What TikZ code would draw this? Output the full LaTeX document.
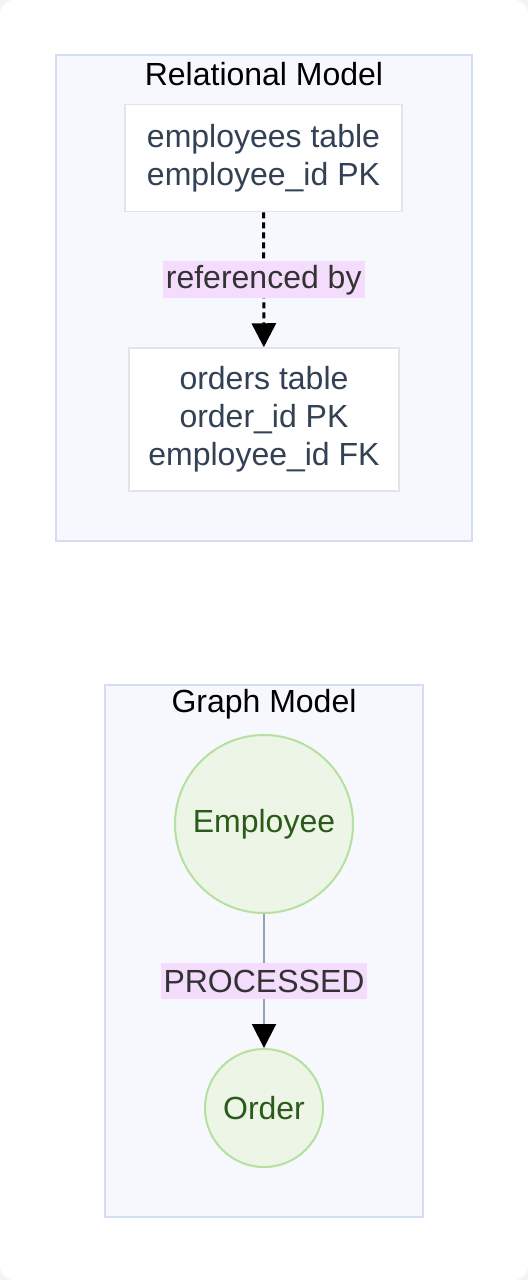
\documentclass[tikz,border=0pt]{standalone}
\usepackage{fontspec}
\setmainfont{Liberation Sans}
\usetikzlibrary{arrows.meta,shapes.geometric}
\definecolor{outerbg}{HTML}{F4F4F5}
\definecolor{clfill}{HTML}{F7F8FD}
\definecolor{cldraw}{HTML}{D3DEF3}
\definecolor{nodedraw}{HTML}{E2E4EA}
\definecolor{nodetext}{HTML}{334155}
\definecolor{lblbg}{HTML}{F3DCFC}
\definecolor{lbltext}{HTML}{333333}
\definecolor{circfill}{HTML}{EDF5E7}
\definecolor{circdraw}{HTML}{B5E0A0}
\definecolor{circtext}{HTML}{2B5B1A}
\definecolor{edgegray}{HTML}{94A3B8}
\tikzset{
  cluster/.style={draw=cldraw,fill=clfill,line width=1.5pt},
  cltitle/.style={font=\fontsize{32}{38}\selectfont,text=black,inner sep=0pt},
  tablebox/.style={draw=nodedraw,fill=white,line width=1.5pt,align=center,text=nodetext,
    font=\fontsize{32}{38}\selectfont,inner sep=0pt},
  circnode/.style={circle,draw=circdraw,fill=circfill,line width=2pt,text=circtext,
    font=\fontsize{32}{38}\selectfont,inner sep=0pt},
  elabel/.style={fill=lblbg,text=lbltext,font=\fontsize{32}{38}\selectfont,inner sep=3pt},
  tip/.style={-{Triangle[width=24pt,length=24pt,black]}},
}
\begin{document}
\begin{tikzpicture}[x=1pt,y=-1pt]
\useasboundingbox (0,0) rectangle (528,1280);
\fill[outerbg] (0,0) rectangle (528,1280);
\fill[white,rounded corners=14pt] (0,0) rectangle (528,1280);
% Relational cluster
\draw[cluster] (56,55) rectangle (472,541);
\node[cltitle] (t1) at (264,74) {Relational Model};
\node[tablebox,minimum width=277pt,minimum height=107pt] (emp) at (263.5,158)
  {employees table\\employee\_id PK};
\node[tablebox,minimum width=270pt,minimum height=143pt] (ord) at (264,419.5)
  {orders table\\order\_id PK\\employee\_id FK};
\draw[tip,line width=3pt,dash pattern=on 6pt off 4pt,black] (emp) -- (ord)
  node[midway,elabel,minimum height=37pt] (l1) {referenced by};
% Graph cluster
\draw[cluster] (105,685) rectangle (423,1217);
\node[cltitle] (t2) at (264,704) {Graph Model};
\node[circnode,minimum size=178pt] (empc) at (264,824) {Employee};
\node[circnode,minimum size=118pt] (ordc) at (264,1108) {Order};
\draw[tip,edgegray,line width=2pt] (empc) -- (ordc)
  node[midway,elabel,minimum height=36pt] (l2) {PROCESSED};
\end{tikzpicture}
\end{document}
